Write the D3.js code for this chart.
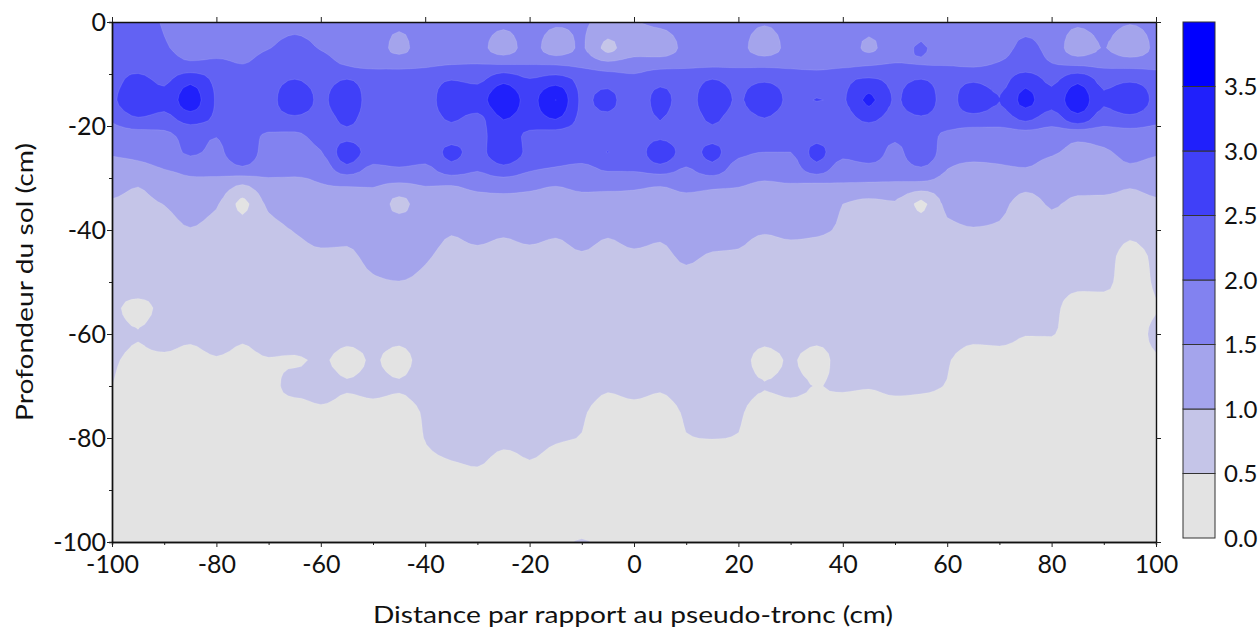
<!DOCTYPE html>
<html><head><meta charset="utf-8">
<script src="https://cdn.jsdelivr.net/npm/d3@7"></script>
<style>html,body{margin:0;padding:0;background:#fff}svg{display:block}text{font-family:Lato,"Open Sans",sans-serif;fill:#111}</style>
</head><body><svg id="c" width="1259" height="628"></svg>
<script>
const distances = d3.range(-100, 101, 5);
const depths = [0,5,8,11,15,19,22,25,28,31,35,40,45,50,55,60,65,70,75,80,85,90,100];
const d0  = [2.15,2.2,1.95,1.75,1.72,1.72,1.72,1.78,1.72,1.7,1.7,1.62,1.7,1.7,1.68,1.62,1.68,1.58,1.54,1.42,1.48,1.6,1.7,1.72,1.66,1.55,1.66,1.72,1.74,1.68,1.74,1.76,1.74,1.72,1.72,1.78,1.7,1.58,1.66,1.54,1.65];
const d5  = [2.25,2.25,2.05,1.85,1.82,1.85,1.98,2.18,1.97,1.85,1.78,1.35,1.75,1.72,1.65,1.28,1.68,1.25,1.55,0.88,1.3,1.25,1.62,1.75,1.65,1.25,1.65,1.72,1.75,1.42,1.8,2.03,1.82,1.78,1.82,2.12,1.82,1.25,1.52,1.2,1.62];
const d8  = [2.4,2.35,2.2,2.05,2.1,1.99,2.2,2.3,2.15,1.95,1.85,1.85,1.9,1.97,1.99,1.95,1.97,1.93,1.85,1.62,1.72,1.78,1.85,1.9,1.88,1.85,1.85,1.85,1.87,1.92,2.01,1.98,1.95,1.92,2.03,2.2,2.01,1.88,1.85,1.8,1.78];
const d11 = [2.35,2.6,2.4,2.85,2.4,2.3,2.35,2.5,2.35,2.5,2.3,2.2,2.3,2.48,2.38,2.85,2.52,2.72,2.38,2.3,2.1,2.35,2.3,2.5,2.35,2.42,2.3,2.25,2.4,2.55,2.4,2.5,2.35,2.42,2.3,2.8,2.38,2.85,2.35,2.42,2.3];
const d15 = [2.4,2.85,2.65,3.3,2.45,2.3,2.35,2.85,2.42,2.8,2.3,2.3,2.3,2.8,2.8,3.4,2.82,3.51,2.42,2.62,2.2,2.65,2.3,2.8,2.45,2.85,2.4,2.51,2.45,3.1,2.45,2.8,2.3,2.85,2.51,3.15,2.65,3.35,2.56,2.85,2.35];
const d19 = [2.04,2.4,2.3,2.65,2.42,2.3,2.3,2.35,2.3,2.58,2.3,2.3,2.3,2.52,2.35,2.98,2.75,2.95,2.4,2.38,2.25,2.5,2.25,2.55,2.3,2.45,2.25,2.25,2.3,2.55,2.3,2.42,2.25,2.25,2.2,2.52,2.2,2.7,2.2,2.3,2.1];
const d22 = [1.7,1.75,1.85,2.15,2.01,2.3,1.9,1.9,2.2,2.42,2.25,2.2,2.2,2.38,2.35,2.8,2.38,2.3,2.25,2.25,2.25,2.45,2.25,2.4,2.3,2.3,2.25,2.35,2.25,2.25,2.1,2.3,1.85,1.75,1.75,1.75,1.7,1.58,1.65,1.75,1.7];
const d25 = [1.55,1.6,1.7,2.08,1.9,2.35,1.78,1.75,1.97,2.75,2.3,2.35,2.25,2.6,2.35,2.85,2.4,2.3,2.3,2.51,2.2,2.85,2.3,2.62,2.15,2.0,2.0,2.65,2.15,2.3,1.85,2.4,1.75,1.7,1.7,1.62,1.55,1.4,1.45,1.6,1.55];
const d28 = [1.35,1.4,1.52,1.6,1.65,1.95,1.65,1.65,1.7,2.4,1.9,1.98,1.9,2.38,2.08,2.4,2.1,1.98,1.88,2.1,2.08,2.35,1.98,2.38,1.75,1.65,1.75,2.35,1.75,1.85,1.75,1.98,1.52,1.4,1.45,1.5,1.35,1.25,1.3,1.45,1.35];
const d31 = [1.19,1.03,1.3,1.43,1.38,1.05,1.4,1.4,1.5,1.55,1.55,1.48,1.55,1.55,1.7,1.75,1.65,1.55,1.65,1.68,1.62,1.55,1.65,1.62,1.55,1.47,1.5,1.49,1.49,1.47,1.46,1.42,1.35,1.35,1.35,1.15,1.2,1.12,1.12,1.05,1.15];
const d35 = [0.95,0.9,1.01,1.2,1.05,0.4,1.1,1.3,1.35,1.32,1.35,0.85,1.25,1.2,1.25,1.3,1.3,1.25,1.3,1.25,1.3,1.3,1.35,1.3,1.28,1.2,1.2,1.18,1.0,0.9,0.95,0.4,1.1,1.15,1.1,0.85,1.03,0.93,0.92,0.88,0.93];
const d40 = [0.85,0.8,0.85,0.98,0.85,0.7,0.85,1.02,1.12,1.1,1.25,1.3,1.2,1.03,1.1,1.05,1.1,1.05,1.13,1.05,1.13,1.08,1.2,1.15,1.1,1.03,1.07,1.05,0.95,0.8,0.85,0.75,0.92,0.98,0.95,0.8,0.9,0.85,0.82,0.58,0.75];
const d45 = [0.8,0.75,0.8,0.82,0.82,0.8,0.82,0.88,0.95,0.95,1.1,1.2,1.05,0.9,0.93,0.9,0.93,0.9,0.97,0.9,0.95,0.92,1.06,0.97,0.96,0.85,0.88,0.85,0.8,0.78,0.78,0.75,0.78,0.8,0.78,0.75,0.72,0.7,0.6,0.42,0.55];
const d50 = [0.7,0.7,0.72,0.75,0.75,0.75,0.75,0.78,0.8,0.85,0.95,0.99,0.9,0.8,0.78,0.78,0.78,0.78,0.78,0.78,0.78,0.8,0.88,0.8,0.78,0.75,0.75,0.75,0.72,0.7,0.7,0.7,0.7,0.7,0.68,0.65,0.62,0.56,0.55,0.4,0.53];
const d55 = [0.56,0.42,0.58,0.68,0.7,0.68,0.7,0.72,0.72,0.72,0.72,0.75,0.75,0.72,0.72,0.72,0.72,0.72,0.72,0.72,0.72,0.72,0.72,0.72,0.7,0.68,0.68,0.68,0.68,0.68,0.68,0.68,0.68,0.68,0.66,0.62,0.55,0.42,0.42,0.4,0.49];
const d60 = [0.6,0.51,0.62,0.58,0.7,0.56,0.7,0.72,0.72,0.6,0.62,0.6,0.7,0.72,0.72,0.72,0.72,0.72,0.72,0.72,0.72,0.72,0.72,0.72,0.7,0.6,0.65,0.6,0.65,0.68,0.68,0.68,0.66,0.58,0.6,0.51,0.51,0.4,0.4,0.4,0.56];
const d65 = [0.53,0.45,0.45,0.4,0.47,0.42,0.48,0.47,0.53,0.42,0.52,0.42,0.6,0.65,0.68,0.68,0.68,0.68,0.68,0.68,0.68,0.68,0.68,0.68,0.6,0.42,0.52,0.4,0.6,0.62,0.62,0.62,0.52,0.4,0.4,0.4,0.4,0.4,0.4,0.4,0.47];
const d70 = [0.5,0.4,0.4,0.4,0.4,0.4,0.42,0.6,0.62,0.52,0.56,0.52,0.62,0.65,0.65,0.65,0.65,0.65,0.65,0.54,0.6,0.54,0.65,0.65,0.6,0.51,0.55,0.495,0.53,0.515,0.55,0.54,0.49,0.4,0.4,0.4,0.4,0.4,0.4,0.4,0.4];
const d75 = [0.4,0.38,0.38,0.38,0.38,0.38,0.38,0.36,0.45,0.4,0.42,0.4,0.53,0.65,0.65,0.65,0.65,0.62,0.53,0.4,0.42,0.4,0.53,0.6,0.53,0.4,0.42,0.4,0.4,0.4,0.42,0.41,0.4,0.38,0.38,0.38,0.38,0.38,0.38,0.38,0.38];
const d80 = [0.38,0.38,0.38,0.38,0.38,0.38,0.38,0.38,0.38,0.38,0.38,0.38,0.51,0.7,0.7,0.6,0.6,0.53,0.49,0.38,0.38,0.38,0.49,0.505,0.49,0.38,0.38,0.38,0.38,0.38,0.38,0.38,0.38,0.38,0.38,0.38,0.38,0.38,0.38,0.38,0.38];
const d85 = [0.38,0.38,0.38,0.38,0.38,0.38,0.38,0.38,0.38,0.38,0.38,0.38,0.4,0.47,0.52,0.38,0.48,0.4,0.38,0.38,0.38,0.38,0.38,0.38,0.38,0.38,0.38,0.38,0.38,0.38,0.38,0.38,0.38,0.38,0.38,0.38,0.38,0.38,0.38,0.38,0.38];
const d90 = [0.37,0.37,0.37,0.37,0.37,0.37,0.37,0.37,0.37,0.37,0.37,0.37,0.37,0.37,0.37,0.37,0.37,0.37,0.37,0.37,0.37,0.37,0.37,0.37,0.37,0.37,0.37,0.37,0.37,0.37,0.37,0.37,0.37,0.37,0.37,0.37,0.37,0.37,0.37,0.37,0.37];
const d100= [0.36,0.36,0.36,0.36,0.36,0.36,0.36,0.36,0.36,0.36,0.36,0.36,0.36,0.36,0.36,0.36,0.36,0.45,0.51,0.45,0.36,0.36,0.36,0.36,0.36,0.36,0.36,0.36,0.36,0.36,0.36,0.36,0.36,0.36,0.36,0.36,0.36,0.36,0.36,0.36,0.36];
const rows = [d0,d5,d8,d11,d15,d19,d22,d25,d28,d31,d35,d40,d45,d50,d55,d60,d65,d70,d75,d80,d85,d90,d100];

const levels = [0,0.5,1,1.5,2,2.5,3,3.5];
const bandColors = ["#e3e3e3","#c5c5e8","#a4a4ec","#8282f0","#6262f3","#4040f8","#2020fb","#0000ff"];
const legendLabels = ["0.0","0.5","1.0","1.5","2.0","2.5","3.0","3.5"];
const xTicks = d3.range(-100,101,20), xMinor = d3.range(-90,100,20);
const yTicks = d3.range(0,-101,-20), yMinor = d3.range(-10,-100,-20);
const xTitle = "Distance par rapport au pseudo-tronc (cm)";
const yTitle = "Profondeur du sol (cm)";

const svg = d3.select("#c");
const L=112,R=1156,T=22,B=542;
const x = d3.scaleLinear().domain([-100,100]).range([L,R]);
const y = d3.scaleLinear().domain([0,-100]).range([T,B]);
const color = d3.scaleThreshold().domain(levels.slice(1)).range(bandColors);

// Contour smoothing only: monotone cubic between the values read above (no new extrema).
const K = 4;
function refine(a){
  const n=a.length, s=[]; 
  for(let i=0;i<n-1;i++) s.push(a[i+1]-a[i]);
  const m=a.map((_,i)=>{ if(i==0) return s[0]; if(i==n-1) return s[n-2];
    return s[i-1]*s[i]<=0?0:2*s[i-1]*s[i]/(s[i-1]+s[i]); });
  const out=[];
  for(let i=0;i<n-1;i++) for(let j=0;j<K;j++){
    const t=j/K,t2=t*t,t3=t2*t;
    out.push((2*t3-3*t2+1)*a[i]+(t3-2*t2+t)*m[i]+(-2*t3+3*t2)*a[i+1]+(t3-t2)*m[i+1]);
  }
  out.push(a[n-1]); return out;
}
const fineRows = rows.map(refine);
const fw = fineRows[0].length;
const fineCols = d3.range(fw).map(i=>refine(fineRows.map(r=>r[i])));
const fh = fineCols[0].length;
const flat=[];
for(let j=-1;j<=fh;j++) for(let i=-1;i<=fw;i++){
  flat.push(fineCols[Math.max(0,Math.min(fw-1,i))][Math.max(0,Math.min(fh-1,j))]);
}
const cols = d3.contours().size([fw+2,fh+2]).thresholds(levels.slice(1))(flat);
const g2x = d3.scaleLinear().domain(distances.map((_,i)=>i)).range(distances);
const g2d = d3.scaleLinear().domain(depths.map((_,i)=>i)).range(depths);
const toCoarse = v => (v-1.5)/K;

svg.append("clipPath").attr("id","plot").append("rect").attr("x",L).attr("y",T).attr("width",R-L).attr("height",B-T);
const plot = svg.append("g").attr("clip-path","url(#plot)");
plot.append("rect").attr("x",L).attr("y",T).attr("width",R-L).attr("height",B-T).attr("fill",bandColors[0]);
const ringLine = d3.line().x(p=>x(g2x(toCoarse(p[0])))).y(p=>y(-g2d(toCoarse(p[1])))).curve(d3.curveLinearClosed);
cols.forEach(c=>{
  const dStr = c.coordinates.map(poly=>poly.map(ring=>ringLine(ring.slice(0,-1))).join("")).join("");
  plot.append("path").attr("d",dStr).attr("fill",color(c.value)).attr("fill-rule","evenodd")
      .attr("stroke","#ffffff").attr("stroke-opacity",0.18).attr("stroke-width",0.6);
});

// axes
const fs = 25;
function styleAxis(g){g.select(".domain").attr("stroke","#111").attr("stroke-width",1.4);g.selectAll(".tick line").attr("stroke","#222");g.selectAll("text").style("font-size",fs+"px").attr("fill","#111");}
const fmt = v=>String(v);
svg.append("g").attr("transform",`translate(0,${B})`).call(d3.axisBottom(x).tickValues(xMinor).tickSize(3).tickFormat("")).call(styleAxis);
svg.append("g").attr("transform",`translate(0,${B})`).call(d3.axisBottom(x).tickValues(xTicks).tickSize(5).tickSizeOuter(0).tickPadding(8).tickFormat(fmt)).call(styleAxis);
svg.append("g").attr("transform",`translate(${L},0)`).call(d3.axisLeft(y).tickValues(yMinor).tickSize(3).tickFormat("")).call(styleAxis);
svg.append("g").attr("transform",`translate(${L},0)`).call(d3.axisLeft(y).tickValues(yTicks).tickSize(5).tickSizeOuter(0).tickPadding(1).tickFormat(fmt)).call(styleAxis);
svg.append("g").attr("transform",`translate(0,${T})`).call(d3.axisTop(x).tickValues(xTicks).tickSize(5).tickSizeOuter(0).tickFormat("")).call(styleAxis);
svg.append("g").attr("transform",`translate(${R},0)`).call(d3.axisRight(y).tickValues(yTicks).tickSize(5).tickSizeOuter(0).tickFormat("")).call(styleAxis);

svg.append("text").attr("x",633).attr("y",623).attr("text-anchor","middle").attr("textLength",520).attr("lengthAdjust","spacingAndGlyphs").style("font-size","24px").text(xTitle);
svg.append("text").attr("transform","translate(33,282) rotate(-90)").attr("text-anchor","middle").attr("textLength",278).attr("lengthAdjust","spacingAndGlyphs").style("font-size","24px").text(yTitle);

// legend
const lg = d3.scaleLinear().domain([0,4]).range([538,22]);
const lx=1183, lw=32;
levels.forEach((v,i)=>{
  const top = i<levels.length-1?levels[i+1]:4;
  svg.append("rect").attr("x",lx).attr("y",lg(top)).attr("width",lw).attr("height",lg(v)-lg(top))
     .attr("fill",bandColors[i]).attr("stroke","#333").attr("stroke-width",1);
  svg.append("text").attr("x",1224).attr("y",lg(v)).attr("dy","0.36em").style("font-size","24px").text(legendLabels[i]);
});
</script></body></html>
